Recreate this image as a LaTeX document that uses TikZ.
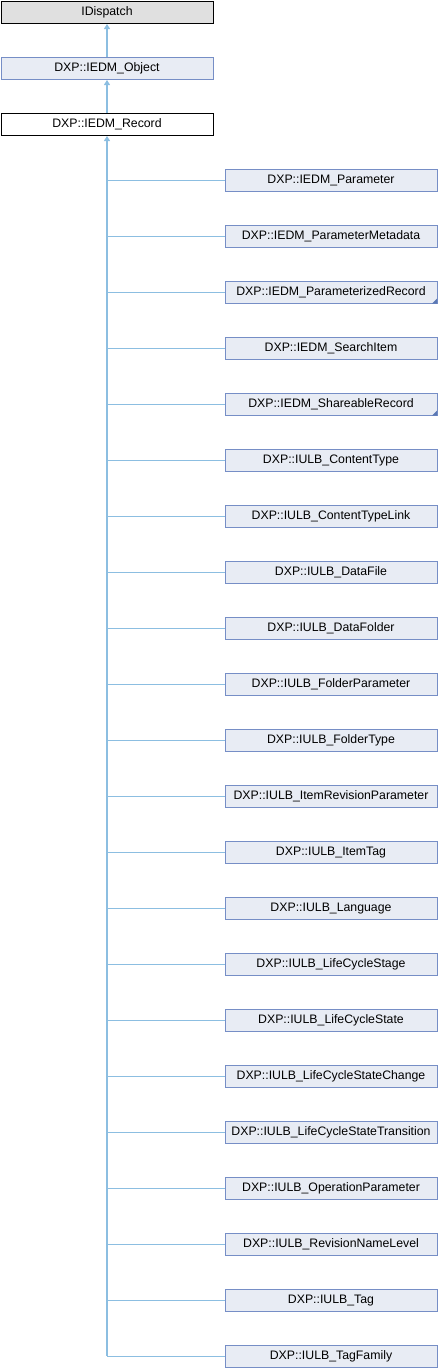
\documentclass[tikz,border=0pt]{standalone}
\usepackage{fontspec}
\setmainfont{Liberation Sans}
\usetikzlibrary{arrows.meta}
\definecolor{boxfill}{RGB}{232,236,244}
\definecolor{boxdraw}{RGB}{118,142,198}
\definecolor{edgecol}{RGB}{140,190,225}
\definecolor{grayfill}{RGB}{224,224,224}
\definecolor{cornercol}{RGB}{90,120,180}
\tikzset{
  x=1pt, y=-1pt,
  box/.style={draw=boxdraw, fill=boxfill, line width=1pt, minimum width=212pt, minimum height=22.5pt,
    inner sep=0pt, anchor=north west, font=\fontsize{12.3}{14}\selectfont},
  rootbox/.style={box, draw=black, fill=grayfill},
  recbox/.style={box, draw=black, fill=white},
  edge/.style={draw=edgecol, line width=1.1pt},
  arr/.style={edge, {Triangle[width=6pt,length=5pt,fill=edgecol]}-},
}
\begin{document}
\begin{tikzpicture}
\useasboundingbox (0,0) rectangle (438,1368);
\node[rootbox] (disp) at (0.5,0.5) {IDispatch};
\node[box] (obj) at (0.5,56.5) {DXP::IEDM\_Object};
\node[recbox] (rec) at (0.5,112.5) {DXP::IEDM\_Record};
\draw[arr] (disp.south) -- (obj.north);
\draw[arr] (obj.south) -- (rec.north);
\foreach \name [count=\i from 0] in {
  DXP::IEDM\_Parameter,
  DXP::IEDM\_ParameterMetadata,
  DXP::IEDM\_ParameterizedRecord,
  DXP::IEDM\_SearchItem,
  DXP::IEDM\_ShareableRecord,
  DXP::IULB\_ContentType,
  DXP::IULB\_ContentTypeLink,
  DXP::IULB\_DataFile,
  DXP::IULB\_DataFolder,
  DXP::IULB\_FolderParameter,
  DXP::IULB\_FolderType,
  DXP::IULB\_ItemRevisionParameter,
  DXP::IULB\_ItemTag,
  DXP::IULB\_Language,
  DXP::IULB\_LifeCycleStage,
  DXP::IULB\_LifeCycleState,
  DXP::IULB\_LifeCycleStateChange,
  DXP::IULB\_LifeCycleStateTransition,
  DXP::IULB\_OperationParameter,
  DXP::IULB\_RevisionNameLevel,
  DXP::IULB\_Tag,
  DXP::IULB\_TagFamily}
{
  \node[box] (c\i) at (224.5,{168.5+56*\i}) {\name};
  \draw[edge] (rec.south |- c\i.west) -- (c\i.west);
}
\draw[arr] (rec.south) -- (rec.south |- c21.west);
\foreach \i in {2,4}{
  \fill[cornercol] ([xshift=-0.5pt,yshift=0.5pt]c\i.south east) -- ++(0,-5) -- ++(-5,5) -- cycle;
}
\end{tikzpicture}
\end{document}
